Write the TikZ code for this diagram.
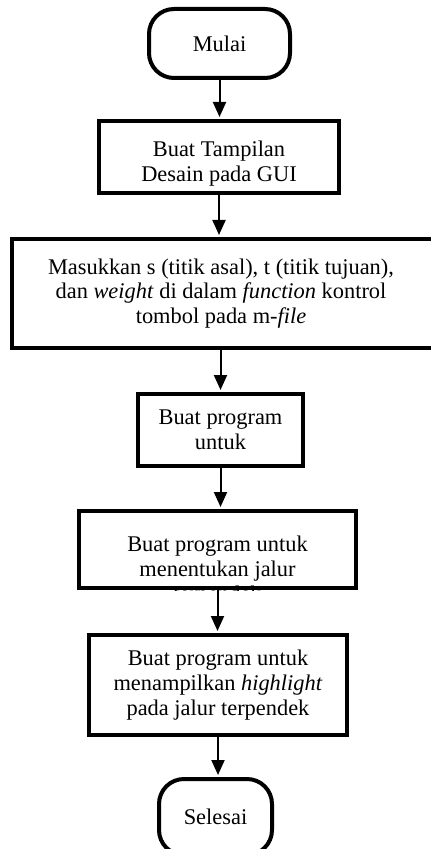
\documentclass[tikz,border=0pt]{standalone}
\usepackage{fontspec}
\setmainfont{Liberation Serif}
\definecolor{ink}{HTML}{000000}
\usetikzlibrary{arrows.meta,positioning}

\begin{document}
\begin{tikzpicture}[x=0.5pt,y=-0.5pt,
  every node/.style={font=\fontsize{11.2}{12.4}\selectfont,align=center,inner sep=0pt},
  terminal/.style={draw=ink,line width=2pt,rounded corners=12.5pt},
  stepbox/.style={draw=ink,line width=2pt},
  flow/.style={ink,line width=1pt,shorten >=1pt,-{Triangle[width=6.5pt,length=7.5pt]}}]
  \useasboundingbox (0,0) rectangle (431,849);
  \clip (0,0) rectangle (431,849);
  % start and end
  \node[terminal,minimum width=70.5pt,minimum height=34.5pt] (start) at (219.5,43.5) {Mulai};
  \node[terminal,minimum width=56.5pt,minimum height=38pt] (finish) at (215.5,817) {Selesai};
  % process boxes
  \node[stepbox,minimum width=120pt,minimum height=36pt] (gui) at (219,157) {\rule{0pt}{14pt}Buat Tampilan\\Desain pada GUI};
  \node[stepbox,minimum width=224pt,minimum height=54.5pt] (input) at (236,293.5) {};
  \node (inputtext) at (221,293.5)
    {Masukkan s (titik asal), t (titik tujuan),\\dan \textit{weight} di dalam \textit{function} kontrol\\tombol pada m-\textit{file}};
  \node[stepbox,minimum width=82.5pt,minimum height=36pt] (prog) at (220.5,430) {Buat program\\untuk};
  \node[stepbox,minimum width=138.5pt,minimum height=38.5pt] (route) at (217.5,549.5) {};
  \begin{scope}
    \clip (route.south west) rectangle (route.north east);
    \node (routetext) at (217.5,571) {Buat program untuk\\menentukan jalur\\terpendek};
  \end{scope}
  \node[stepbox,minimum width=129pt,minimum height=50pt] (show) at (218,685)
    {Buat program untuk\\menampilkan \textit{highlight}\\pada jalur terpendek};
  % connectors
  \draw[flow] (start.south) -- (start.south |- gui.north);
  \draw[flow] (gui.south) -- (gui.south |- input.north);
  \draw[flow] (input.south -| prog.north) -- (prog.north);
  \draw[flow] (prog.south) -- (prog.south |- route.north);
  \draw[flow] (route.south) -- (route.south |- show.north);
  \draw[flow] (show.south) -- (show.south |- finish.north);
\end{tikzpicture}
\end{document}
